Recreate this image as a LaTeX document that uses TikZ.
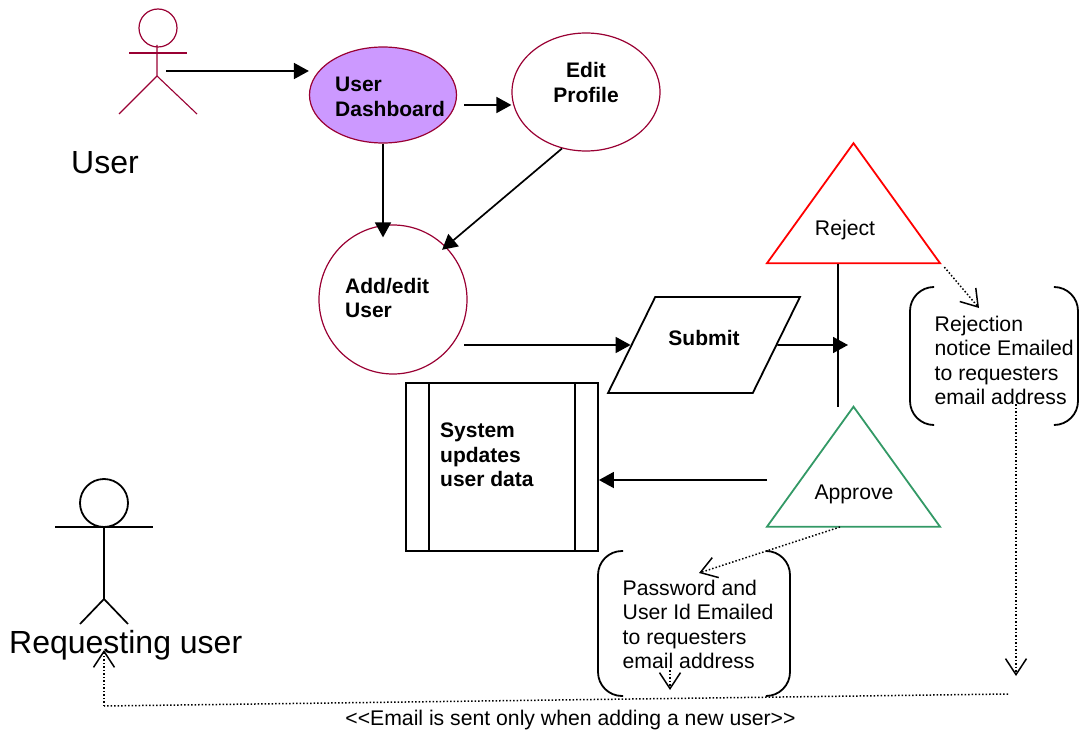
\documentclass[tikz,border=0pt]{standalone}
\usepackage{fontspec}
\setmainfont{Liberation Sans}
\usetikzlibrary{shapes.geometric,arrows.meta}

\definecolor{maroonline}{HTML}{990033}
\definecolor{dashfill}{HTML}{CC99FF}
\definecolor{approvegreen}{HTML}{339966}

\tikzset{
    txt/.style = {font=\fontsize{21.2}{24.5}\selectfont, align=left, inner sep=0pt, anchor=west},
    boldtxt/.style = {txt, font=\fontsize{21}{24.5}\selectfont\bfseries},
    bigtxt/.style = {font=\fontsize{32}{36}\selectfont, inner sep=0pt, anchor=west},
    flow/.style = {line width=1.7pt, -{Triangle[length=15pt,width=16pt]}},
    mail/.style = {line width=1.5pt, dash pattern=on 1.5pt off 2pt, -{Straight Barb[length=16pt,width=21pt,line width=1.5pt]}},
    mailplain/.style = {line width=1.5pt, dash pattern=on 1.5pt off 2pt},
    oval/.style = {draw=maroonline, ellipse, line width=1.2pt, inner sep=0pt},
    stem/.style = {draw=black, line width=1.7pt},
    tri/.style = {draw, isosceles triangle, isosceles triangle stretches,
        shape border rotate=90, line width=1.8pt, inner sep=0pt, minimum width=173pt, minimum height=120pt},
    bracket/.style = {line width=1.8pt, rounded corners=24pt}
}

\begin{document}
\begin{tikzpicture}[x=1pt, y=-1pt]
    \useasboundingbox (0,0) rectangle (1079,730);

    \node[oval, minimum width=38pt, minimum height=38pt] (userhead) at (158,28) {};
    \draw[maroonline, line width=1.1pt] (157,45) -- (157,76) -- (119,114);
    \draw[maroonline, line width=1.1pt] (157,76) -- (197,114);
    \draw[maroonline, line width=1.1pt] (129,53) -- (187,53);
    \node[bigtxt] (userlabel) at (71,163) {User};

    \node[oval, fill=dashfill, minimum width=147pt, minimum height=96pt] (dash) at (383,95) {};
    \node[boldtxt] (dashtext) at (335,97) {User\\Dashboard};

    \node[oval, minimum width=148pt, minimum height=118pt] (edit) at (586,92) {};
    \node[boldtxt, align=center, anchor=center] (edittext) at (586,82.5) {Edit\\Profile};

    \node[oval, minimum width=148pt, minimum height=149pt] (addedit) at (393,299.5) {};
    \node[boldtxt] (addedittext) at (345,298) {Add/edit\\User};

    \node[draw, trapezium, trapezium left angle=65.4, trapezium right angle=114.6, trapezium stretches,
        line width=1.8pt, inner sep=0pt, minimum width=192pt, minimum height=96pt] (submit) at (704,345) {\phantom{x}};
    \node[boldtxt, anchor=center] (submittext) at (704,338) {Submit};

    \node[draw, line width=1.8pt, inner sep=0pt, minimum width=192pt, minimum height=168pt] (sysbox) at (502,467) {};
    \draw[line width=1.8pt] (429,383) -- (429,551);
    \draw[line width=1.8pt] (575,383) -- (575,551);
    \node[boldtxt] (systext) at (440,455) {System\\updates\\user data};

    \node[tri, draw=red] (reject) at (853.5,219.5) {\phantom{x}};
    \node[txt, anchor=center] (rejecttext) at (845,230) {Reject};

    \node[tri, draw=approvegreen] (approve) at (853.5,483) {\phantom{x}};
    \node[txt, anchor=center] (approvetext) at (854,494) {Approve};

    \draw[bracket] (933,287) -- (910,287) -- (910,425) -- (933,425);
    \draw[bracket] (1055,287) -- (1078,287) -- (1078,425) -- (1055,425);
    \node[txt] (rejnote) at (934.5,360.5) {Rejection\\notice Emailed\\to requesters\\email address};

    \draw[bracket] (623,551) -- (598,551) -- (598,696) -- (623,696);
    \draw[bracket] (766,551) -- (790,551) -- (790,696) -- (766,696);
    \node[txt] (passnote) at (622.5,624.5) {Password and\\User Id Emailed\\to requesters\\email address};

    \node[oval, draw=black, line width=1.8pt, minimum width=48pt, minimum height=48pt] (reqhead) at (104,503) {};
    \draw[stem] (104,527) -- (104,599) -- (80,624);
    \draw[stem] (104,599) -- (128,624);
    \draw[stem] (55,527) -- (153,527);
    \node[bigtxt] (reqlabel) at (9,645) {Requesting user};

    \node[txt, anchor=center] (mailnote) at (570.5,720) {<{}<Email is sent only when adding a new user>{}>};

    \coordinate (userhand) at (166,71);
    \coordinate (dashout) at (464,105);
    \coordinate (addout) at (464,345);
    \coordinate (vjoin) at (848,345);
    \coordinate (vline) at (838,345);
    \coordinate (approveout) at (767,480);
    \coordinate (rejecthit) at (979,308);
    \coordinate (rejectfoot) at (1016,404);
    \coordinate (rejectend) at (1016,676);
    \coordinate (approvefoot) at (840,527);
    \coordinate (passhit) at (699,573);
    \coordinate (passfoot) at (670,670);
    \coordinate (passend) at (670,690);
    \coordinate (mailstart) at (1008,694);
    \coordinate (mailcorner) at (104,706);
    \coordinate (reqend) at (104,650);

    \draw[flow] (userhand) -- (userhand -| dash.west);
    \draw[flow] (dashout) -- (dashout -| edit.west);
    \draw[flow, shorten >=-13pt] (dash.south) -- (dash.south |- addedit.north);
    \draw[flow, shorten >=-5pt] (edit.-113) -- (addedit.45);
    \draw[flow] (addout) -- (addout -| submit.west);
    \draw[flow] (submit.east) -- (vjoin);
    \draw[line width=1.7pt, shorten >=-3pt] (vline |- reject.lower side) -- (vline |- approve.apex);
    \draw[flow] (approveout) -- (approveout -| sysbox.east);

    \draw[mail, shorten <=4pt] (reject.right corner) -- (rejecthit);
    \draw[mail] (rejectfoot) -- (rejectend);
    \draw[mail] (approvefoot) -- (passhit);
    \draw[mail] (passfoot) -- (passend);
    \draw[mailplain] (mailstart) -- (mailcorner);
    \draw[mail] (mailcorner) -- (reqend);
\end{tikzpicture}
\end{document}
